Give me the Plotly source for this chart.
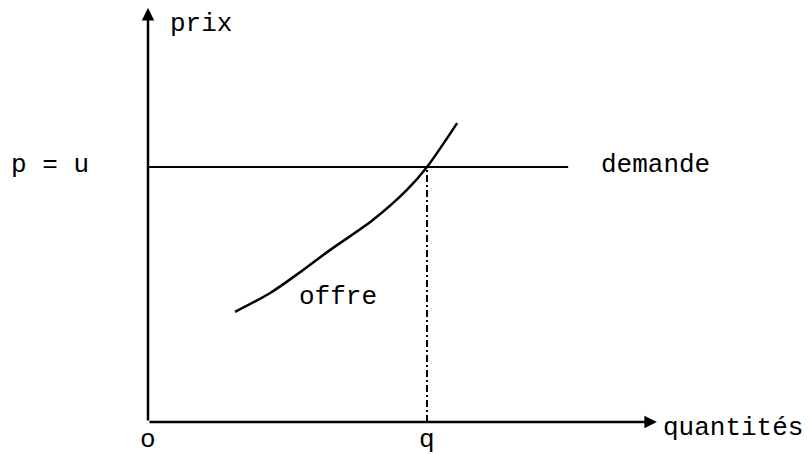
import plotly.graph_objects as go

# Data (diagram units: q = 5, p = u = 5)
offre_x = [1.56, 2.19, 2.78, 3.26, 4.03, 4.64, 5.0, 5.54]
offre_y = [2.16, 2.53, 2.98, 3.37, 3.96, 4.55, 5.0, 5.86]
demande_x = [0, 7.53]
demande_y = [5, 5]
q_val = 5.0
p_val = 5.0
x_axis_end = 9.12
y_axis_end = 8.12

labels = {
    "prix": (0.95, 7.8),
    "p = u": (-1.76, 5.04),
    "demande": (9.09, 5.04),
    "offre": (3.41, 2.45),
    "o": (0.0, -0.36),
    "q": (q_val, -0.36),
    "quantités": (10.48, -0.12),
}

# page body has an 8px margin, so the figure is drawn 8px right/down
W, H = 803, 446
ox, oy = 140, 414
sx, sy = 55.8, 51.0
xr = [-ox / sx, (W - ox) / sx]
yr = [-(H - oy) / sy, oy / sy]

FONT = "Liberation Mono, Courier New, monospace"

fig = go.Figure()
fig.add_trace(go.Scatter(x=demande_x, y=demande_y, mode="lines",
                         line=dict(color="black", width=2), hoverinfo="skip"))
fig.add_trace(go.Scatter(x=offre_x, y=offre_y, mode="lines",
                         line=dict(color="black", width=2.5, shape="spline", smoothing=0.8),
                         hoverinfo="skip"))
fig.add_trace(go.Scatter(x=[q_val, q_val], y=[0, p_val], mode="lines",
                         line=dict(color="black", width=2, dash="7px,3px,2px,3px"), hoverinfo="skip"))

# axes with arrows
fig.add_annotation(x=0, y=y_axis_end, ax=0, ay=0, xref="x", yref="y", axref="x", ayref="y",
                   text="", showarrow=True, arrowhead=2, arrowsize=1, arrowwidth=2.5, arrowcolor="black")
fig.add_annotation(x=x_axis_end, y=0, ax=0, ay=0, xref="x", yref="y", axref="x", ayref="y",
                   text="", showarrow=True, arrowhead=2, arrowsize=1, arrowwidth=2.5, arrowcolor="black")

for t, (x, y) in labels.items():
    fig.add_annotation(x=x, y=y, xref="x", yref="y", text=t, showarrow=False,
                       xanchor="center", yanchor="middle", borderpad=0,
                       font=dict(family=FONT, size=26, color="black"))

fig.update_layout(
    width=W, height=H,
    margin=dict(l=0, r=0, t=0, b=0),
    paper_bgcolor="white", plot_bgcolor="white",
    showlegend=False,
    xaxis=dict(range=xr, visible=False, fixedrange=True),
    yaxis=dict(range=yr, visible=False, fixedrange=True),
)
fig.write_html("out.html")
